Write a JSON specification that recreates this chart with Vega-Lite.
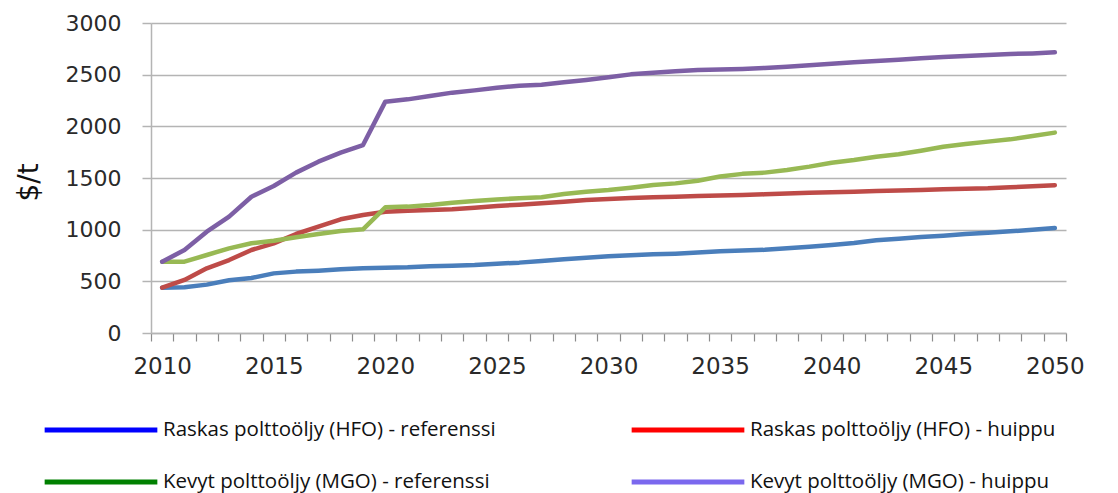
{
  "$schema": "https://vega.github.io/schema/vega-lite/v6.json",
  "autosize": "none",
  "width": 915,
  "height": 310,
  "padding": {"left": 151, "top": 23, "right": 52, "bottom": 160},
  "config": {
    "view": {"stroke": null},
    "axis": {"labelFont": "DejaVu Sans", "labelColor": "#2a2a2a", "titleFont": "DejaVu Sans"}
  },
  "data": {
    "values": [
      {"vuosi": 2010, "hfo_ref": 439, "hfo_huippu": 439, "mgo_ref": 690, "mgo_huippu": 690},
      {"vuosi": 2011, "hfo_ref": 442, "hfo_huippu": 513, "mgo_ref": 690, "mgo_huippu": 803},
      {"vuosi": 2012, "hfo_ref": 468, "hfo_huippu": 626, "mgo_ref": 755, "mgo_huippu": 980},
      {"vuosi": 2013, "hfo_ref": 510, "hfo_huippu": 706, "mgo_ref": 819, "mgo_huippu": 1126},
      {"vuosi": 2014, "hfo_ref": 532, "hfo_huippu": 803, "mgo_ref": 868, "mgo_huippu": 1319},
      {"vuosi": 2015, "hfo_ref": 577, "hfo_huippu": 868, "mgo_ref": 893, "mgo_huippu": 1423},
      {"vuosi": 2016, "hfo_ref": 594, "hfo_huippu": 958, "mgo_ref": 926, "mgo_huippu": 1552},
      {"vuosi": 2017, "hfo_ref": 603, "hfo_huippu": 1029, "mgo_ref": 958, "mgo_huippu": 1658},
      {"vuosi": 2018, "hfo_ref": 616, "hfo_huippu": 1100, "mgo_ref": 987, "mgo_huippu": 1745},
      {"vuosi": 2019, "hfo_ref": 626, "hfo_huippu": 1142, "mgo_ref": 1003, "mgo_huippu": 1819},
      {"vuosi": 2020, "hfo_ref": 632, "hfo_huippu": 1174, "mgo_ref": 1216, "mgo_huippu": 2239},
      {"vuosi": 2021, "hfo_ref": 636, "hfo_huippu": 1184, "mgo_ref": 1223, "mgo_huippu": 2261},
      {"vuosi": 2022, "hfo_ref": 646, "hfo_huippu": 1190, "mgo_ref": 1238, "mgo_huippu": 2293},
      {"vuosi": 2023, "hfo_ref": 651, "hfo_huippu": 1197, "mgo_ref": 1261, "mgo_huippu": 2326},
      {"vuosi": 2024, "hfo_ref": 658, "hfo_huippu": 1213, "mgo_ref": 1277, "mgo_huippu": 2348},
      {"vuosi": 2025, "hfo_ref": 671, "hfo_huippu": 1229, "mgo_ref": 1293, "mgo_huippu": 2374},
      {"vuosi": 2026, "hfo_ref": 681, "hfo_huippu": 1242, "mgo_ref": 1303, "mgo_huippu": 2393},
      {"vuosi": 2027, "hfo_ref": 697, "hfo_huippu": 1255, "mgo_ref": 1313, "mgo_huippu": 2403},
      {"vuosi": 2028, "hfo_ref": 713, "hfo_huippu": 1271, "mgo_ref": 1345, "mgo_huippu": 2426},
      {"vuosi": 2029, "hfo_ref": 729, "hfo_huippu": 1287, "mgo_ref": 1368, "mgo_huippu": 2448},
      {"vuosi": 2030, "hfo_ref": 742, "hfo_huippu": 1297, "mgo_ref": 1384, "mgo_huippu": 2474},
      {"vuosi": 2031, "hfo_ref": 752, "hfo_huippu": 1306, "mgo_ref": 1406, "mgo_huippu": 2503},
      {"vuosi": 2032, "hfo_ref": 761, "hfo_huippu": 1313, "mgo_ref": 1432, "mgo_huippu": 2519},
      {"vuosi": 2033, "hfo_ref": 768, "hfo_huippu": 1319, "mgo_ref": 1448, "mgo_huippu": 2532},
      {"vuosi": 2034, "hfo_ref": 778, "hfo_huippu": 1325, "mgo_ref": 1474, "mgo_huippu": 2545},
      {"vuosi": 2035, "hfo_ref": 790, "hfo_huippu": 1330, "mgo_ref": 1515, "mgo_huippu": 2550},
      {"vuosi": 2036, "hfo_ref": 798, "hfo_huippu": 1335, "mgo_ref": 1540, "mgo_huippu": 2556},
      {"vuosi": 2037, "hfo_ref": 805, "hfo_huippu": 1342, "mgo_ref": 1552, "mgo_huippu": 2565},
      {"vuosi": 2038, "hfo_ref": 819, "hfo_huippu": 1350, "mgo_ref": 1577, "mgo_huippu": 2577},
      {"vuosi": 2039, "hfo_ref": 835, "hfo_huippu": 1357, "mgo_ref": 1610, "mgo_huippu": 2590},
      {"vuosi": 2040, "hfo_ref": 852, "hfo_huippu": 1363, "mgo_ref": 1648, "mgo_huippu": 2606},
      {"vuosi": 2041, "hfo_ref": 871, "hfo_huippu": 1368, "mgo_ref": 1674, "mgo_huippu": 2619},
      {"vuosi": 2042, "hfo_ref": 897, "hfo_huippu": 1373, "mgo_ref": 1706, "mgo_huippu": 2632},
      {"vuosi": 2043, "hfo_ref": 913, "hfo_huippu": 1378, "mgo_ref": 1729, "mgo_huippu": 2645},
      {"vuosi": 2044, "hfo_ref": 929, "hfo_huippu": 1384, "mgo_ref": 1764, "mgo_huippu": 2658},
      {"vuosi": 2045, "hfo_ref": 942, "hfo_huippu": 1390, "mgo_ref": 1803, "mgo_huippu": 2671},
      {"vuosi": 2046, "hfo_ref": 958, "hfo_huippu": 1395, "mgo_ref": 1829, "mgo_huippu": 2681},
      {"vuosi": 2047, "hfo_ref": 971, "hfo_huippu": 1400, "mgo_ref": 1852, "mgo_huippu": 2690},
      {"vuosi": 2048, "hfo_ref": 984, "hfo_huippu": 1410, "mgo_ref": 1874, "mgo_huippu": 2700},
      {"vuosi": 2049, "hfo_ref": 1000, "hfo_huippu": 1420, "mgo_ref": 1906, "mgo_huippu": 2706},
      {"vuosi": 2050, "hfo_ref": 1016, "hfo_huippu": 1430, "mgo_ref": 1939, "mgo_huippu": 2716}
    ]
  },
  "transform": [
    {"fold": ["hfo_ref", "hfo_huippu", "mgo_ref", "mgo_huippu"], "as": ["sarja", "hinta"]}
  ],
  "encoding": {
    "x": {
      "field": "vuosi",
      "type": "quantitative",
      "scale": {"domain": [2009.5, 2050.5], "nice": false, "zero": false},
      "axis": {
        "title": null,
        "grid": false,
        "values": [2009.5, 2010, 2010.5, 2011.5, 2012.5, 2013.5, 2014.5, 2015, 2015.5, 2016.5, 2017.5, 2018.5, 2019.5, 2020, 2020.5, 2021.5, 2022.5, 2023.5, 2024.5, 2025, 2025.5, 2026.5, 2027.5, 2028.5, 2029.5, 2030, 2030.5, 2031.5, 2032.5, 2033.5, 2034.5, 2035, 2035.5, 2036.5, 2037.5, 2038.5, 2039.5, 2040, 2040.5, 2041.5, 2042.5, 2043.5, 2044.5, 2045, 2045.5, 2046.5, 2047.5, 2048.5, 2049.5, 2050, 2050.5],
        "labelExpr": "datum.value % 5 === 0 ? format(datum.value, 'd') : ''",
        "labelOverlap": false,
        "labelFlush": false,
        "labelFontSize": 23,
        "labelPadding": 14,
        "tickOpacity": {"condition": {"test": "datum.value % 1 === 0", "value": 0}, "value": 1},
        "tickColor": "#8c8c8c",
        "tickSize": 8,
        "tickWidth": 1.2,
        "domainColor": "#b4b4b4",
        "domainWidth": 1.5
      }
    },
    "y": {
      "field": "hinta",
      "type": "quantitative",
      "scale": {"domain": [0, 3000], "nice": false},
      "axis": {
        "title": "$/t",
        "titleFontSize": 28,
        "titleFontWeight": "normal",
        "titleColor": "#111111",
        "titleAngle": -90,
        "titleAlign": "center",
        "titleBaseline": "middle",
        "titleX": -122,
        "titleY": 159,
        "values": [0, 500, 1000, 1500, 2000, 2500, 3000],
        "format": "d",
        "labelFontSize": 22,
        "labelPadding": 21,
        "tickSize": 9,
        "tickColor": "#b4b4b4",
        "tickWidth": 1.5,
        "gridColor": "#b4b4b4",
        "gridWidth": 1.5,
        "domainColor": "#b4b4b4",
        "domainWidth": 1.5
      }
    }
  },
  "layer": [
    {
      "mark": {"type": "line", "strokeWidth": 2.5, "strokeJoin": "round"},
      "encoding": {
        "stroke": {
          "field": "sarja",
          "type": "nominal",
          "scale": {
            "domain": ["hfo_ref", "hfo_huippu", "mgo_ref", "mgo_huippu"],
            "range": ["#0000ff", "#ff0000", "#008000", "#7b68ee"]
          },
          "legend": {
            "title": null,
            "orient": "none",
            "direction": "horizontal",
            "legendX": -109,
            "legendY": 394,
            "padding": 0,
            "columns": 2,
            "columnPadding": 133,
            "rowPadding": 26,
            "clipHeight": 26,
            "symbolType": "stroke",
            "symbolSize": 12700,
            "symbolStrokeWidth": 5,
            "labelFont": "Open Sans",
            "labelFontSize": 20.5,
            "labelColor": "#111111",
            "labelOffset": 3,
            "labelLimit": 600,
            "labelExpr": "datum.value === 'hfo_ref' ? 'Raskas polttoöljy (HFO) - referenssi' : datum.value === 'hfo_huippu' ? 'Raskas polttoöljy (HFO) - huippu' : datum.value === 'mgo_ref' ? 'Kevyt polttoöljy (MGO) - referenssi' : 'Kevyt polttoöljy (MGO) - huippu'"
          }
        }
      }
    },
    {
      "mark": {"type": "line", "strokeWidth": 4.5, "strokeCap": "round", "strokeJoin": "round"},
      "encoding": {
        "color": {
          "field": "sarja",
          "type": "nominal",
          "scale": {
            "domain": ["hfo_ref", "hfo_huippu", "mgo_ref", "mgo_huippu"],
            "range": ["#4a7ebb", "#be4b48", "#98b954", "#7d5fa5"]
          },
          "legend": null
        }
      }
    }
  ]
}
